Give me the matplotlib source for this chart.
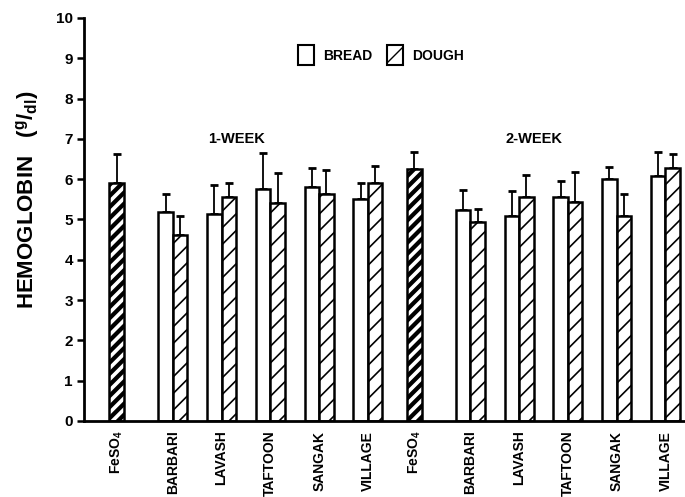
import matplotlib
matplotlib.use('Agg')
import matplotlib.pyplot as plt
from matplotlib.patches import Patch
import numpy as np

plt.rcParams['font.family'] = ['Liberation Sans', 'DejaVu Sans']
plt.rcParams['font.weight'] = 'bold'
plt.rcParams['mathtext.fontset'] = 'custom'
plt.rcParams['mathtext.rm'] = 'Liberation Sans:bold'
plt.rcParams['mathtext.it'] = 'Liberation Sans:bold'
plt.rcParams['mathtext.bf'] = 'Liberation Sans:bold'

# data
breads = ['BARBARI', 'LAVASH', 'TAFTOON', 'SANGAK', 'VILLAGE']
weeks = ['1-WEEK', '2-WEEK']

feso4_mean = [5.90, 6.25]
feso4_err = [0.73, 0.42]

bread_mean_w1 = [5.18, 5.14, 5.76, 5.80, 5.52]
bread_err_w1 = [0.45, 0.72, 0.88, 0.47, 0.38]
dough_mean_w1 = [4.61, 5.55, 5.40, 5.63, 5.90]
dough_err_w1 = [0.48, 0.35, 0.75, 0.59, 0.42]

bread_mean_w2 = [5.24, 5.09, 5.56, 6.00, 6.07]
bread_err_w2 = [0.48, 0.61, 0.40, 0.30, 0.61]
dough_mean_w2 = [4.94, 5.56, 5.43, 5.08, 6.28]
dough_err_w2 = [0.32, 0.54, 0.74, 0.54, 0.35]

bread_means = [bread_mean_w1, bread_mean_w2]
bread_errs = [bread_err_w1, bread_err_w2]
dough_means = [dough_mean_w1, dough_mean_w2]
dough_errs = [dough_err_w1, dough_err_w2]

fig = plt.figure(figsize=(6.85, 4.97), dpi=100)
ax = fig.add_axes([0.1226, 0.153, 0.8774, 0.8108])

w = 0.297
week_start = [0.0, 6.1]
ekw = dict(fmt='none', ecolor='black', elinewidth=1.3, capsize=3, capthick=2)

tick_pos = []
tick_lab = []
for i in range(2):
    x0 = week_start[i]
    # FeSO4 bar (black with white stripes)
    with plt.rc_context({'hatch.linewidth': 2.6}):
        ax.bar(x0 - w / 2, feso4_mean[i], w, facecolor='black', edgecolor='white',
               hatch='///', linewidth=0, zorder=2)
    ax.bar(x0 - w / 2, feso4_mean[i], w, fill=False, edgecolor='black', linewidth=1.8, zorder=3)
    ax.errorbar([x0 - w / 2], [feso4_mean[i]], yerr=[[0], [feso4_err[i]]], zorder=1, **ekw)
    tick_pos.append(x0 - w / 2)
    tick_lab.append(r'FeSO$_{4}$')

    xs = x0 + np.arange(1, len(breads) + 1)
    with plt.rc_context({'hatch.linewidth': 1.2}):
        ax.bar(xs - w / 2, bread_means[i], w, facecolor='white', edgecolor='black',
               linewidth=1.8, zorder=2)
        ax.bar(xs + w / 2, dough_means[i], w, facecolor='white', edgecolor='black',
               hatch='//', linewidth=1.8, zorder=2)
    ax.errorbar(xs - w / 2, bread_means[i], yerr=[np.zeros(len(breads)), bread_errs[i]],
                zorder=1, **ekw)
    ax.errorbar(xs + w / 2, dough_means[i], yerr=[np.zeros(len(breads)), dough_errs[i]],
                zorder=1, **ekw)
    tick_pos.extend(xs)
    tick_lab.extend(breads)

    ax.text(x0 + 2.3, 7.0, weeks[i], ha='center', va='center',
            fontsize=10.5, fontweight='bold')

ax.set_xlim(-0.82, 11.5)
ax.set_ylim(0, 10)
ax.set_yticks(range(0, 11))
ax.set_xticks(tick_pos)
ax.set_xticklabels(tick_lab, rotation=90, fontsize=10, fontweight='bold')
ax.tick_params(axis='x', length=0, pad=7)
ax.tick_params(axis='y', direction='out', length=5, width=1.8, labelsize=11, pad=3)
for lab in ax.get_yticklabels():
    lab.set_fontweight('bold')

for s in ['top', 'right']:
    ax.spines[s].set_visible(False)
ax.spines['left'].set_linewidth(2)
ax.spines['bottom'].set_linewidth(2)

ax.set_ylabel(r'HEMOGLOBIN   ($^{g}$/$_{dl}$)', fontsize=16, fontweight='bold')
ax.yaxis.set_label_coords(-0.072, 0.55)

with plt.rc_context({'hatch.linewidth': 1.2}):
    handles = [Patch(facecolor='white', edgecolor='black', linewidth=1.5, label='BREAD'),
               Patch(facecolor='white', edgecolor='black', linewidth=1.5, hatch='//', label='DOUGH')]
ax.legend(handles=handles, loc='center', bbox_to_anchor=(0.494, 0.908), ncol=2,
          frameon=False, handlelength=1.15, handleheight=1.8, columnspacing=1.0,
          handletextpad=0.7, prop={'weight': 'bold', 'size': 10})

fig.savefig('out.png', dpi=100)
